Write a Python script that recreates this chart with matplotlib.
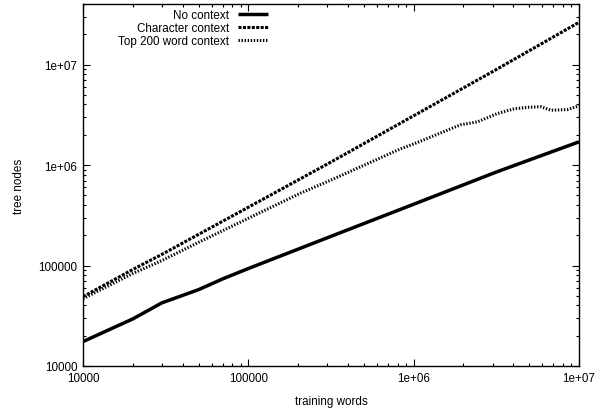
import matplotlib
matplotlib.use("Agg")
import matplotlib.pyplot as plt
from matplotlib.ticker import LogLocator, FixedLocator, NullFormatter
import numpy as np

plt.rcParams['font.family'] = ['Liberation Sans', 'DejaVu Sans']

# Data (log-log)
x_none = [1e4, 2e4, 3e4, 5e4, 7e4, 1e5, 3.16e5, 1e6, 3.16e6, 1e7]
y_none = [17500, 29400, 42500, 57500, 73600, 93300, 195000, 407000, 851000, 1700000]

x_char = [1e4, 2e4, 3e4, 5e4, 1e5, 3.16e5, 1e6, 3.16e6, 1e7]
y_char = [49000, 91200, 129000, 204000, 380000, 1070000, 3090000, 8910000, 26300000]

x_top = [1e4, 2e4, 3e4, 5e4, 1e5, 2.07e5, 3.16e5, 8.34e5, 1e6, 1.92e6, 2.43e6,
         3.21e6, 4.06e6, 5.0e6, 5.89e6, 6.76e6, 8.5e6, 1e7]
y_top = [46800, 83200, 112000, 170000, 295000, 525000, 708000, 1450000, 1620000,
         2510000, 2690000, 3250000, 3630000, 3760000, 3800000, 3510000, 3560000, 3880000]

labels = ["No context", "Character context", "Top 200 word context"]
x_ticks = [1e4, 1e5, 1e6, 1e7]
x_ticklabels = ["10000", "100000", "1e+06", "1e+07"]
y_ticks = [1e4, 1e5, 1e6, 1e7]
y_ticklabels = ["10000", "100000", "1e+06", "1e+07"]

FS = 8.4

fig = plt.figure(figsize=(5.97, 4.10), dpi=100)
ax = fig.add_axes([83/597, 1-367/410, (579-83)/597, (367-5)/410])

ax.plot(x_none, y_none, color='black', lw=2.5, solid_capstyle='butt', label=labels[0])
ax.plot(x_char, y_char, color='black', lw=2.2, dashes=(1.0, 0.45), label=labels[1])
ax.plot(x_top, y_top, color='black', lw=2.2, dashes=(0.45, 0.55), label=labels[2])

ax.set_xscale('log')
ax.set_yscale('log')
ax.set_xlim(1e4, 1e7)
ax.set_ylim(1e4, 4e7)

ax.xaxis.set_major_locator(FixedLocator(x_ticks))
ax.set_xticklabels(x_ticklabels)
ax.yaxis.set_major_locator(FixedLocator(y_ticks))
ax.set_yticklabels(y_ticklabels)
for a in (ax.xaxis, ax.yaxis):
    a.set_minor_locator(LogLocator(base=10, subs=np.arange(2, 10)))
    a.set_minor_formatter(NullFormatter())

ax.tick_params(which='both', direction='in', top=True, right=True, labelsize=FS, width=0.8, colors='black')
ax.tick_params(which='major', length=5, pad=4)
ax.tick_params(which='minor', length=2.5)
for s in ax.spines.values():
    s.set_linewidth(1.0)

ax.set_xlabel("training words", fontsize=FS, labelpad=8)
ax.set_ylabel("tree nodes", fontsize=FS, labelpad=10)

leg = ax.legend(loc='upper right', bbox_to_anchor=(268/597, 1-10/410), bbox_transform=fig.transFigure,
                frameon=False, markerfirst=False, fontsize=FS, handlelength=2.6,
                handletextpad=0.75, labelspacing=0.1, borderpad=0, borderaxespad=0)
for t in leg.get_texts():
    t.set_ha('right')

fig.savefig("out.png", dpi=100)
